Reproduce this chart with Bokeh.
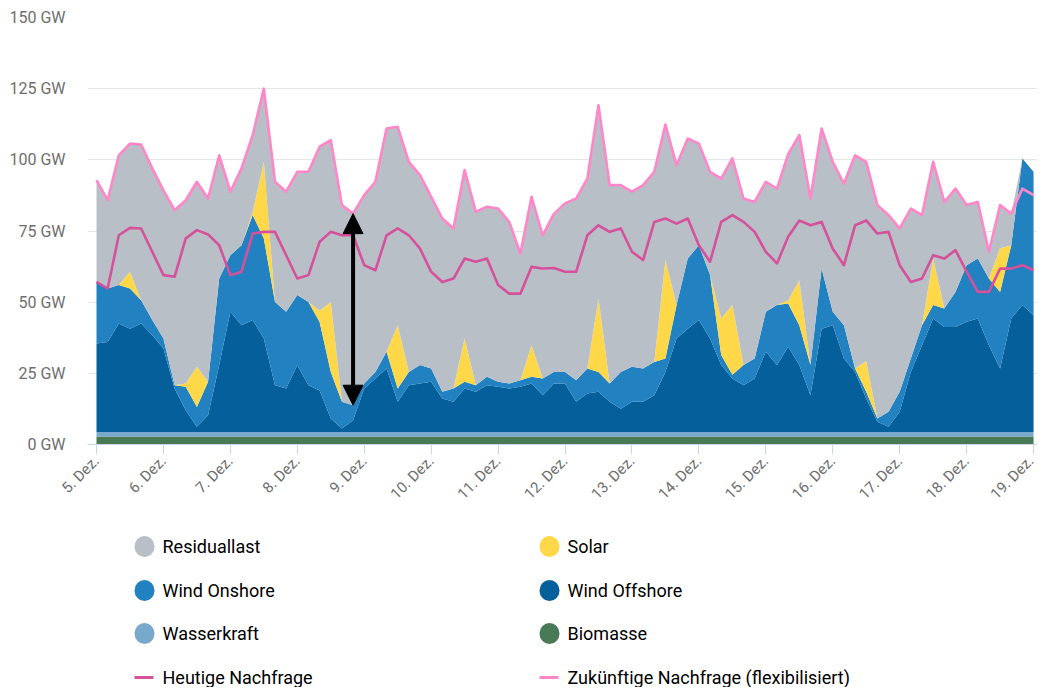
import math
from bokeh.plotting import figure
from bokeh.models import FixedTicker, Range1d, Arrow, NormalHead, ColumnDataSource, PrintfTickFormatter
from bokeh.layouts import column
from bokeh.embed import file_html
from bokeh.resources import INLINE
from bokeh.core.properties import value

# time axis: 4-hour steps from 5. Dez 00:00 to 19. Dez 00:00 (in days)
hours = list(range(0, 337, 4))
t = [h / 24 for h in hours]

day_ticks = list(range(15))
day_labels = ["5. Dez.", "6. Dez.", "7. Dez.", "8. Dez.", "9. Dez.", "10. Dez.", "11. Dez.",
              "12. Dez.", "13. Dez.", "14. Dez.", "15. Dez.", "16. Dez.", "17. Dez.", "18. Dez.", "19. Dez."]

biomasse = [2.8, 2.8, 2.8, 2.8, 2.8, 2.8, 2.8, 2.8, 2.8, 2.8,
            2.8, 2.8, 2.8, 2.8, 2.8, 2.8, 2.8, 2.8, 2.8, 2.8,
            2.8, 2.8, 2.8, 2.8, 2.8, 2.8, 2.8, 2.8, 2.8, 2.8,
            2.8, 2.8, 2.8, 2.8, 2.8, 2.8, 2.8, 2.8, 2.8, 2.8,
            2.8, 2.8, 2.8, 2.8, 2.8, 2.8, 2.8, 2.8, 2.8, 2.8,
            2.8, 2.8, 2.8, 2.8, 2.8, 2.8, 2.8, 2.8, 2.8, 2.8,
            2.8, 2.8, 2.8, 2.8, 2.8, 2.8, 2.8, 2.8, 2.8, 2.8,
            2.8, 2.8, 2.8, 2.8, 2.8, 2.8, 2.8, 2.8, 2.8, 2.8,
            2.8, 2.8, 2.8, 2.8, 2.8]
wasserkraft = [1.6, 1.6, 1.6, 1.6, 1.6, 1.6, 1.6, 1.6, 1.6, 1.6,
               1.6, 1.6, 1.6, 1.6, 1.6, 1.6, 1.6, 1.6, 1.6, 1.6,
               1.6, 1.6, 1.6, 1.6, 1.6, 1.6, 1.6, 1.6, 1.6, 1.6,
               1.6, 1.6, 1.6, 1.6, 1.6, 1.6, 1.6, 1.6, 1.6, 1.6,
               1.6, 1.6, 1.6, 1.6, 1.6, 1.6, 1.6, 1.6, 1.6, 1.6,
               1.6, 1.6, 1.6, 1.6, 1.6, 1.6, 1.6, 1.6, 1.6, 1.6,
               1.6, 1.6, 1.6, 1.6, 1.6, 1.6, 1.6, 1.6, 1.6, 1.6,
               1.6, 1.6, 1.6, 1.6, 1.6, 1.6, 1.6, 1.6, 1.6, 1.6,
               1.6, 1.6, 1.6, 1.6, 1.6]
wind_offshore = [31.1, 31.6, 38.1, 36.3, 38.1, 34.0, 29.3, 15.3, 7.6, 1.8,
                 5.9, 23.5, 42.2, 37.5, 39.3, 32.8, 16.4, 15.3, 23.5, 16.4,
                 14.6, 4.7, 1.2, 4.1, 15.3, 18.8, 22.3, 10.6, 16.4, 17.0,
                 17.6, 11.8, 10.6, 15.3, 14.1, 16.4, 15.9, 15.3, 15.9, 17.0,
                 12.9, 17.0, 17.0, 10.6, 13.5, 14.1, 10.6, 8.2, 10.6, 10.6,
                 12.9, 21.1, 32.8, 36.3, 39.3, 32.8, 23.5, 18.8, 16.4, 18.8,
                 28.2, 23.5, 29.9, 23.5, 12.9, 36.3, 37.5, 25.8, 21.1, 11.8,
                 3.6, 1.8, 7.1, 21.1, 30.5, 39.9, 36.9, 36.9, 38.7, 39.9,
                 30.5, 22.3, 39.9, 44.6, 41.0]
wind_onshore = [21.6, 18.8, 13.5, 14.1, 8.2, 5.3, 3.5, 1.1, 8.3, 7.0,
                11.7, 30.4, 19.9, 28.1, 36.9, 35.2, 29.3, 26.9, 24.6, 29.3,
                24.0, 16.4, 9.4, 5.3, 1.7, 2.3, 5.9, 4.7, 4.7, 6.5,
                4.7, 2.3, 4.7, 2.3, 2.3, 3.0, 1.7, 1.7, 2.3, 2.4,
                5.9, 4.1, 4.1, 7.6, 8.8, 7.0, 6.4, 12.9, 12.3, 11.7,
                11.7, 4.7, 11.8, 24.6, 26.3, 22.3, 3.5, 1.3, 7.1, 7.0,
                14.0, 21.1, 15.2, 14.0, 10.6, 21.1, 4.7, 11.7, 1.2, 2.3,
                1.1, 5.3, 7.0, 4.7, 7.0, 4.7, 6.5, 12.3, 19.9, 21.0,
                23.4, 26.9, 25.7, 51.5, 50.4]
solar = [0, 0, 0, 5.9, 0, 0, 0, 0, 1.1, 14.1,
         0, 0, 0, 0, 1.0, 26.9, 0, 0, 0, 0,
         4.0, 24.6, 0, 0, 0, 0, 0, 22.2, 0, 0,
         0, 0, 0, 15.2, 0, 0, 0, 0, 0, 11.1,
         0, 0, 0, 0, 0, 25.8, 0, 0, 0, 0,
         0, 34.6, 0, 0, 0, 0, 12.9, 24.5, 0, 0,
         0, 0, 1.1, 15.8, 0, 0, 0, 0, 0, 10.8,
         0, 0, 0, 0, 0, 16.3, 0, 0, 0, 0,
         0, 15.3, 0, 0, 0]
zukuenftige_nachfrage = [92.9, 85.8, 101.6, 105.7, 105.4, 97.0, 89.3, 82.3, 85.8, 92.3,
                         86.4, 101.6, 88.8, 97.0, 108.7, 125.0, 92.3, 88.8, 95.8, 95.8,
                         104.6, 106.9, 84.1, 81.1, 87.6, 92.3, 111.0, 111.6, 99.3, 94.6,
                         87.0, 79.4, 75.9, 96.4, 81.7, 83.5, 82.9, 78.2, 67.1, 87.0,
                         73.5, 81.0, 84.7, 86.4, 93.4, 119.2, 91.1, 91.1, 88.8, 91.1,
                         95.8, 112.4, 98.1, 107.5, 105.7, 95.8, 93.4, 100.5, 86.4, 85.2,
                         92.3, 89.9, 102.0, 108.7, 86.4, 111.0, 99.3, 91.6, 101.6, 99.3,
                         84.1, 80.6, 75.9, 82.9, 80.6, 99.3, 85.2, 89.9, 84.1, 85.2,
                         67.7, 84.1, 81.1, 89.9, 87.6]
heutige_nachfrage = [57.1, 54.8, 73.5, 76.1, 75.9, 67.7, 59.5, 58.9, 72.4, 75.3,
                     73.8, 70.0, 59.5, 60.7, 74.1, 74.7, 74.7, 66.5, 58.3, 59.5,
                     71.2, 74.7, 73.5, 73.5, 63.0, 61.2, 73.5, 75.9, 73.5, 68.8,
                     60.7, 57.1, 58.3, 65.3, 64.2, 65.3, 56.0, 53.0, 53.0, 62.4,
                     61.8, 62.0, 60.7, 60.7, 73.5, 77.0, 74.7, 75.9, 67.7, 64.8,
                     78.2, 79.4, 77.6, 79.4, 70.0, 64.2, 78.2, 80.6, 78.2, 74.7,
                     67.7, 63.6, 73.0, 78.7, 77.0, 78.2, 68.8, 63.0, 77.0, 78.7,
                     74.1, 74.7, 63.0, 57.1, 58.3, 66.5, 65.3, 68.3, 60.7, 53.6,
                     53.6, 61.8, 61.8, 63.0, 61.2]

arrow_index = 23  # 8. Dez. 20:00

colors = {
    "Residuallast": "#b8bfc6",
    "Solar": "#ffd84a",
    "Wind Onshore": "#2181c1",
    "Wind Offshore": "#045f9b",
    "Wasserkraft": "#79a8cd",
    "Biomasse": "#477a55",
}
col_heute = "#d6519b"
col_zukunft = "#ff87c9"

ren_top = [b + w + o + n + s for b, w, o, n, s in
           zip(biomasse, wasserkraft, wind_offshore, wind_onshore, solar)]
residuallast = [max(0.0, z - r) for z, r in zip(zukuenftige_nachfrage, ren_top)]

src = ColumnDataSource(dict(
    t=t, biomasse=biomasse, wasserkraft=wasserkraft, wind_offshore=wind_offshore,
    wind_onshore=wind_onshore, solar=solar, residuallast=residuallast,
    heute=heutige_nachfrage, zukunft=zukuenftige_nachfrage))

FONT = "Roboto"
LEFT = 87
TOP = 17
BOTTOM = 72
FRAME_W = 950

p = figure(frame_width=FRAME_W, frame_height=427,
           x_range=Range1d(-0.1345, 14.059), y_range=Range1d(0, 150),
           output_backend="svg", toolbar_location=None,
           min_border_left=LEFT, min_border_right=0, min_border_top=TOP, min_border_bottom=BOTTOM)
p.outline_line_color = None

p.varea_stack(stackers=["biomasse", "wasserkraft", "wind_offshore", "wind_onshore", "solar", "residuallast"],
              x="t", source=src,
              color=[colors["Biomasse"], colors["Wasserkraft"], colors["Wind Offshore"],
                     colors["Wind Onshore"], colors["Solar"], colors["Residuallast"]])

p.line("t", "heute", source=src, line_color=col_heute, line_width=2.6, line_join="round")
p.line("t", "zukunft", source=src, line_color=col_zukunft, line_width=2.6, line_join="round")

ax = t[arrow_index]
p.add_layout(Arrow(x_start=ax, y_start=ren_top[arrow_index], x_end=ax, y_end=zukuenftige_nachfrage[arrow_index],
                   line_color="black", line_width=4,
                   start=NormalHead(size=20, fill_color="black", line_color="black"),
                   end=NormalHead(size=20, fill_color="black", line_color="black")))

# y axis
p.yaxis.ticker = FixedTicker(ticks=[0, 25, 50, 75, 100, 125, 150])
p.yaxis.formatter = PrintfTickFormatter(format="%d GW")
p.yaxis.axis_line_color = None
p.yaxis.major_tick_line_color = None
p.yaxis.minor_tick_line_color = None
p.yaxis.major_tick_out = 0
p.yaxis.major_tick_in = 0
p.yaxis.major_label_standoff = 22
p.yaxis.major_label_text_font = FONT
p.yaxis.major_label_text_font_size = "16px"
p.yaxis.major_label_text_color = "#6e6e6e"
p.ygrid.grid_line_color = "#e6e6e6"
p.ygrid.grid_line_width = 1
p.xgrid.grid_line_color = None

# x axis
p.xaxis.ticker = FixedTicker(ticks=day_ticks)
p.xaxis.major_label_overrides = {d: lab for d, lab in zip(day_ticks, day_labels)}
p.xaxis.major_label_orientation = math.pi / 4
p.xaxis.axis_line_color = "#ccd6eb"
p.xaxis.axis_line_width = 1
p.xaxis.major_tick_line_color = "#ccd6eb"
p.xaxis.major_tick_out = 10
p.xaxis.major_tick_in = 0
p.xaxis.minor_tick_line_color = None
p.xaxis.major_label_standoff = 4
p.xaxis.major_label_text_font = FONT
p.xaxis.major_label_text_font_size = "15px"
p.xaxis.major_label_text_color = "#6e6e6e"

# legend panel below; its frame is aligned with the chart frame, so use
# an x range in page-like pixel units starting at the frame's left edge
LG_H = 171
lg = figure(frame_width=FRAME_W, height=LG_H,
            x_range=Range1d(LEFT + 1, LEFT + 1 + FRAME_W), y_range=Range1d(LG_H, 0),
            output_backend="svg", toolbar_location=None,
            min_border_left=LEFT, min_border_right=0, min_border_top=0, min_border_bottom=0)
lg.axis.visible = False
lg.grid.visible = False
lg.outline_line_color = None

legend_rows = [("Residuallast", "Solar"), ("Wind Onshore", "Wind Offshore"),
               ("Wasserkraft", "Biomasse")]
col_x = [145, 550]
row_y = [30, 74, 117, 161]
for r, pair in enumerate(legend_rows):
    for c, name in enumerate(pair):
        lg.ellipse(x=[col_x[c]], y=[row_y[r]], width=20, height=21, fill_color=colors[name], line_color=None)
        lg.text(x=[col_x[c] + 18], y=[row_y[r]], text=[name], text_font=value(FONT),
                text_font_size="18px", text_baseline="middle", text_align="left", text_color="black")
line_items = [("Heutige Nachfrage", col_heute), ("Zukünftige Nachfrage (flexibilisiert)", col_zukunft)]
for c, (name, colr) in enumerate(line_items):
    lg.segment(x0=[col_x[c] - 10], y0=[row_y[3]], x1=[col_x[c] + 9], y1=[row_y[3]], line_color=colr, line_width=3)
    lg.text(x=[col_x[c] + 18], y=[row_y[3]], text=[name], text_font=value(FONT),
            text_font_size="18px", text_baseline="middle", text_align="left", text_color="black")

layout = column(p, lg, spacing=0)
open("out.html", "w").write(file_html(layout, INLINE))
